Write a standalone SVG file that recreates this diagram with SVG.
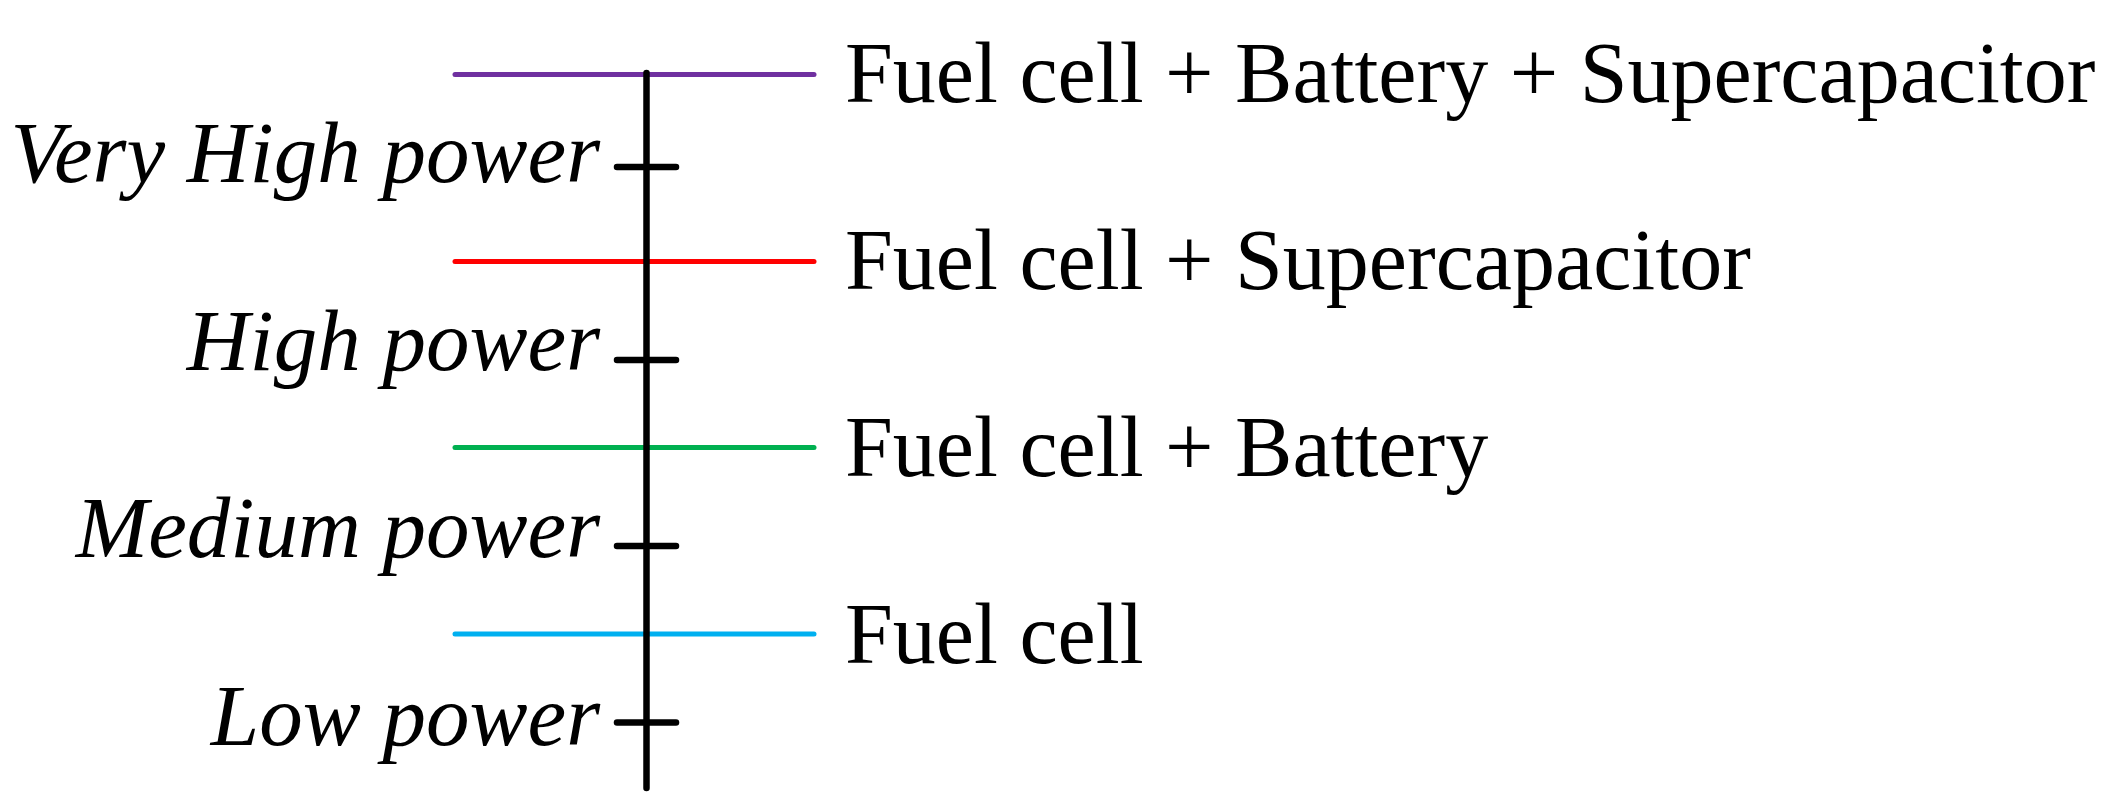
<svg xmlns="http://www.w3.org/2000/svg" width="2120" height="811" viewBox="0 0 2120 811">
<style>
.lvl{stroke-width:5;stroke-linecap:round;fill:none}
.ax{stroke:#000;stroke-width:6.5;stroke-linecap:round;fill:none}
.r{font-family:"Liberation Serif","Times New Roman",serif;font-size:86px;fill:#000}
.l{font-family:"Liberation Serif","Times New Roman",serif;font-size:87px;font-style:italic;fill:#000;text-anchor:end}
</style>
<rect width="2120" height="811" fill="#fff"/>
<g id="connectors">
<line class="lvl" x1="455" y1="74.5" x2="814" y2="74.5" stroke="#7030A0"/>
<line class="lvl" x1="455" y1="261.5" x2="814" y2="261.5" stroke="#FF0000"/>
<line class="lvl" x1="455" y1="447.5" x2="814" y2="447.5" stroke="#00B050"/>
<line class="lvl" x1="455" y1="634" x2="814" y2="634" stroke="#00B0F0"/>
<line class="ax" x1="646.5" y1="73" x2="646.5" y2="788"/>
<line class="ax" x1="617" y1="167" x2="676" y2="167"/>
<line class="ax" x1="617" y1="360" x2="676" y2="360"/>
<line class="ax" x1="617" y1="546" x2="676" y2="546"/>
<line class="ax" x1="617" y1="722.5" x2="676" y2="722.5"/>
</g>
<g id="n1"><text class="r" x="845" y="102">Fuel cell + Battery + Supercapacitor</text></g>
<g id="n2"><text class="r" x="845" y="289">Fuel cell + Supercapacitor</text></g>
<g id="n3"><text class="r" x="845" y="476">Fuel cell + Battery</text></g>
<g id="n4"><text class="r" x="845" y="663">Fuel cell</text></g>
<g id="p1"><text class="l" x="600" y="182">Very High power</text></g>
<g id="p2"><text class="l" x="600" y="370">High power</text></g>
<g id="p3"><text class="l" x="600" y="557">Medium power</text></g>
<g id="p4"><text class="l" x="600" y="745">Low power</text></g>
</svg>
